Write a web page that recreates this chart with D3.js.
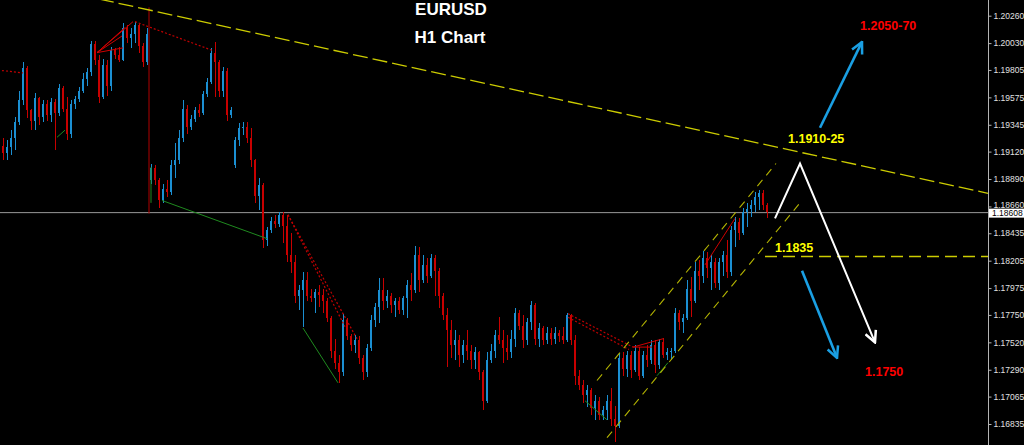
<!DOCTYPE html>
<html>
<head>
<meta charset="utf-8">
<script src="https://cdn.jsdelivr.net/npm/d3@7"></script>
<style>
  html, body { margin: 0; padding: 0; background: #000; overflow: hidden; }
  svg { display: block; }
</style>
</head>
<body>
<script>
// EURUSD H1 candles (one bar every ~4px)
const opens = [
  1.1917, 1.1911, 1.1916, 1.1923, 1.1937, 1.1955, 1.1982, 1.1947, 1.1938, 1.1957,
  1.1941, 1.1952, 1.1943, 1.1954, 1.1944, 1.1965, 1.1948, 1.1927, 1.1952, 1.1956,
  1.1963, 1.1973, 1.1979, 1.2002, 1.1989, 1.1958, 1.1985, 1.1967, 1.1997, 1.1993,
  1.1989, 1.2016, 1.2007, 1.2011, 1.2018, 1.2001, 1.1987, 1.1888, 1.1898, 1.1888,
  1.1871, 1.1881, 1.1878, 1.1901, 1.1905, 1.1923, 1.1948, 1.1933, 1.1939, 1.1947,
  1.1944, 1.1960, 1.1970, 1.1995, 1.1987, 1.1963, 1.1980, 1.1943, 1.1901, 1.1922,
  1.1932, 1.1933, 1.1923, 1.1905, 1.1875, 1.1884, 1.1838, 1.1846, 1.1854, 1.1851,
  1.1859, 1.1850, 1.1825, 1.1819, 1.1791, 1.1796, 1.1804, 1.1791, 1.1789, 1.1794,
  1.1792, 1.1787, 1.1772, 1.1745, 1.1735, 1.1727, 1.1771, 1.1757, 1.1750, 1.1754,
  1.1739, 1.1727, 1.1747, 1.1771, 1.1782, 1.1796, 1.1787, 1.1791, 1.1783, 1.1787,
  1.1779, 1.1789, 1.1800, 1.1796, 1.1825, 1.1804, 1.1817, 1.1808, 1.1823, 1.1812,
  1.1791, 1.1775, 1.1762, 1.1750, 1.1754, 1.1741, 1.1750, 1.1745, 1.1737, 1.1744,
  1.1727, 1.1703, 1.1737, 1.1745, 1.1758, 1.1754, 1.1747, 1.1744, 1.1755, 1.1777,
  1.1766, 1.1754, 1.1769, 1.1783, 1.1755, 1.1764, 1.1754, 1.1760, 1.1755, 1.1760,
  1.1757, 1.1754, 1.1775, 1.1754, 1.1724, 1.1716, 1.1708, 1.1712, 1.1697, 1.1703,
  1.1691, 1.1695, 1.1703, 1.1688, 1.1682, 1.1739, 1.1730, 1.1741, 1.1729, 1.1745,
  1.1724, 1.1741, 1.1737, 1.1750, 1.1733, 1.1752, 1.1741, 1.1744, 1.1745, 1.1777,
  1.1769, 1.1772, 1.1797, 1.1787, 1.1812, 1.1808, 1.1823, 1.1814, 1.1819, 1.1802,
  1.1819, 1.1825, 1.1811, 1.1846, 1.1853, 1.1844, 1.1861, 1.1864, 1.1867, 1.1874,
  1.1877, 1.1867
];
const highs = [
  1.1923, 1.1922, 1.1930, 1.1941, 1.1963, 1.1987, 1.1984, 1.1948, 1.1961, 1.1958,
  1.1955, 1.1955, 1.1957, 1.1956, 1.1969, 1.1967, 1.1958, 1.1955, 1.1959, 1.1966,
  1.1978, 1.1982, 1.2005, 1.2005, 1.1993, 1.1990, 1.1989, 1.2000, 1.1999, 1.2000,
  1.2020, 1.2018, 1.2016, 1.2021, 1.2019, 1.2003, 1.2016, 1.1902, 1.1901, 1.1890,
  1.1885, 1.1888, 1.1905, 1.1919, 1.1930, 1.1955, 1.1951, 1.1943, 1.1949, 1.1952,
  1.1963, 1.1974, 1.1999, 1.2004, 1.1989, 1.1983, 1.1982, 1.1949, 1.1924, 1.1936,
  1.1937, 1.1937, 1.1932, 1.1906, 1.1890, 1.1886, 1.1849, 1.1857, 1.1859, 1.1861,
  1.1861, 1.1859, 1.1844, 1.1825, 1.1800, 1.1811, 1.1811, 1.1797, 1.1797, 1.1800,
  1.1797, 1.1789, 1.1774, 1.1755, 1.1741, 1.1776, 1.1772, 1.1759, 1.1758, 1.1757,
  1.1741, 1.1751, 1.1775, 1.1785, 1.1806, 1.1806, 1.1796, 1.1793, 1.1789, 1.1790,
  1.1791, 1.1804, 1.1810, 1.1833, 1.1832, 1.1825, 1.1823, 1.1826, 1.1825, 1.1814,
  1.1793, 1.1781, 1.1771, 1.1762, 1.1758, 1.1754, 1.1762, 1.1750, 1.1748, 1.1745,
  1.1729, 1.1744, 1.1751, 1.1762, 1.1773, 1.1762, 1.1758, 1.1762, 1.1781, 1.1779,
  1.1775, 1.1772, 1.1787, 1.1785, 1.1768, 1.1766, 1.1765, 1.1764, 1.1765, 1.1762,
  1.1765, 1.1777, 1.1776, 1.1758, 1.1729, 1.1720, 1.1716, 1.1714, 1.1708, 1.1706,
  1.1699, 1.1708, 1.1714, 1.1699, 1.1743, 1.1744, 1.1745, 1.1745, 1.1750, 1.1748,
  1.1745, 1.1750, 1.1754, 1.1754, 1.1755, 1.1756, 1.1747, 1.1747, 1.1781, 1.1779,
  1.1776, 1.1804, 1.1807, 1.1819, 1.1821, 1.1829, 1.1828, 1.1825, 1.1823, 1.1823,
  1.1829, 1.1838, 1.1850, 1.1857, 1.1856, 1.1865, 1.1869, 1.1871, 1.1878, 1.1880,
  1.1880, 1.1869
];
const lows = [
  1.1905, 1.1905, 1.1909, 1.1913, 1.1934, 1.1951, 1.1940, 1.1930, 1.1930, 1.1934,
  1.1937, 1.1938, 1.1937, 1.1913, 1.1942, 1.1945, 1.1922, 1.1923, 1.1948, 1.1954,
  1.1961, 1.1967, 1.1975, 1.1985, 1.1953, 1.1956, 1.1959, 1.1963, 1.1990, 1.1987,
  1.1988, 1.2003, 1.1999, 1.2003, 1.1995, 1.1983, 1.1985, 1.1885, 1.1884, 1.1865,
  1.1869, 1.1874, 1.1876, 1.1890, 1.1902, 1.1920, 1.1927, 1.1930, 1.1937, 1.1941,
  1.1943, 1.1958, 1.1969, 1.1958, 1.1958, 1.1958, 1.1938, 1.1940, 1.1898, 1.1917,
  1.1926, 1.1919, 1.1899, 1.1869, 1.1863, 1.1831, 1.1833, 1.1844, 1.1848, 1.1849,
  1.1835, 1.1819, 1.1810, 1.1785, 1.1779, 1.1765, 1.1787, 1.1786, 1.1777, 1.1782,
  1.1777, 1.1769, 1.1739, 1.1730, 1.1718, 1.1724, 1.1754, 1.1745, 1.1743, 1.1734,
  1.1720, 1.1723, 1.1745, 1.1765, 1.1768, 1.1779, 1.1781, 1.1777, 1.1773, 1.1776,
  1.1775, 1.1772, 1.1787, 1.1793, 1.1794, 1.1802, 1.1802, 1.1806, 1.1791, 1.1781,
  1.1771, 1.1731, 1.1739, 1.1737, 1.1731, 1.1735, 1.1737, 1.1730, 1.1730, 1.1720,
  1.1695, 1.1701, 1.1735, 1.1739, 1.1751, 1.1735, 1.1737, 1.1739, 1.1748, 1.1762,
  1.1747, 1.1750, 1.1762, 1.1750, 1.1748, 1.1750, 1.1751, 1.1750, 1.1751, 1.1752,
  1.1751, 1.1752, 1.1750, 1.1716, 1.1712, 1.1701, 1.1698, 1.1691, 1.1687, 1.1687,
  1.1687, 1.1687, 1.1682, 1.1668, 1.1680, 1.1724, 1.1723, 1.1722, 1.1727, 1.1720,
  1.1722, 1.1731, 1.1734, 1.1726, 1.1730, 1.1739, 1.1737, 1.1737, 1.1743, 1.1762,
  1.1760, 1.1771, 1.1773, 1.1785, 1.1796, 1.1802, 1.1806, 1.1796, 1.1798, 1.1796,
  1.1808, 1.1806, 1.1808, 1.1832, 1.1838, 1.1842, 1.1849, 1.1857, 1.1861, 1.1863,
  1.1863, 1.1856
];
const closes = [
  1.1911, 1.1916, 1.1923, 1.1937, 1.1955, 1.1982, 1.1947, 1.1938, 1.1957, 1.1941,
  1.1952, 1.1943, 1.1954, 1.1944, 1.1965, 1.1948, 1.1927, 1.1952, 1.1956, 1.1963,
  1.1973, 1.1979, 1.2002, 1.1989, 1.1958, 1.1985, 1.1967, 1.1997, 1.1993, 1.1989,
  1.2016, 1.2007, 1.2011, 1.2018, 1.2001, 1.1987, 1.2011, 1.1898, 1.1888, 1.1871,
  1.1881, 1.1878, 1.1901, 1.1905, 1.1923, 1.1948, 1.1933, 1.1939, 1.1947, 1.1944,
  1.1960, 1.1970, 1.1995, 1.1987, 1.1963, 1.1980, 1.1943, 1.1947, 1.1922, 1.1932,
  1.1933, 1.1923, 1.1905, 1.1875, 1.1884, 1.1838, 1.1846, 1.1854, 1.1851, 1.1859,
  1.1850, 1.1825, 1.1819, 1.1791, 1.1796, 1.1804, 1.1791, 1.1789, 1.1794, 1.1792,
  1.1787, 1.1772, 1.1745, 1.1735, 1.1727, 1.1771, 1.1757, 1.1750, 1.1754, 1.1739,
  1.1727, 1.1747, 1.1771, 1.1782, 1.1796, 1.1787, 1.1791, 1.1783, 1.1787, 1.1779,
  1.1789, 1.1800, 1.1796, 1.1825, 1.1804, 1.1817, 1.1808, 1.1823, 1.1812, 1.1791,
  1.1775, 1.1762, 1.1750, 1.1754, 1.1741, 1.1750, 1.1745, 1.1737, 1.1744, 1.1727,
  1.1703, 1.1737, 1.1745, 1.1758, 1.1754, 1.1747, 1.1744, 1.1755, 1.1777, 1.1766,
  1.1754, 1.1769, 1.1783, 1.1755, 1.1764, 1.1754, 1.1760, 1.1755, 1.1760, 1.1757,
  1.1754, 1.1775, 1.1754, 1.1724, 1.1716, 1.1708, 1.1712, 1.1697, 1.1703, 1.1691,
  1.1695, 1.1703, 1.1688, 1.1682, 1.1739, 1.1730, 1.1741, 1.1729, 1.1745, 1.1724,
  1.1741, 1.1737, 1.1750, 1.1733, 1.1752, 1.1741, 1.1744, 1.1745, 1.1777, 1.1769,
  1.1772, 1.1797, 1.1787, 1.1812, 1.1808, 1.1823, 1.1814, 1.1819, 1.1802, 1.1819,
  1.1825, 1.1811, 1.1846, 1.1853, 1.1844, 1.1861, 1.1864, 1.1867, 1.1874, 1.1877,
  1.1867, 1.1861
];

const yTicks = [1.20260, 1.20030, 1.19805, 1.19575, 1.19345, 1.19120, 1.18890, 1.18660,
  1.18435, 1.18205, 1.17975, 1.17750, 1.17520, 1.17290, 1.17065, 1.16835];
const lastPrice = 1.18608;

// drawn objects, as [bar index, price]
const downTrend = [[24, 1.2040], [246.25, 1.1877]];
const level1835 = [[190.5, 1.1824], [246.25, 1.1824]];
const channelTop = [[148.5, 1.1720], [193.25, 1.1902]];
const channelBottom = [[151, 1.1672], [199.25, 1.1869]];
const pathWhite = [[193, 1.1856], [199.25, 1.1902], [218, 1.1752]];
const arrowUp = [[204.25, 1.1932], [214.75, 1.2004]];
const arrowDown = [[199.75, 1.1812], [208.5, 1.1739]];
const weekLine = [[36.5, 1.2033], [36.5, 1.1860]];
const redDotted = [
  [[-0.25, 1.1980], [5, 1.1978]],
  [[33, 1.2021], [52.25, 1.1997]],
  [[71.25, 1.1859], [88.5, 1.1755]],
  [[71.25, 1.1859], [85.5, 1.1765]],
  [[141.25, 1.1776], [157.5, 1.1748]],
  [[141.25, 1.1773], [156.5, 1.1746]]
];
const redSolid = [
  [[23.5, 1.1995], [32.5, 1.2021]],
  [[23.5, 1.1995], [30.5, 1.2016]],
  [[23.5, 1.1995], [29.75, 1.2009]],
  [[23.5, 1.1995], [30, 1.1999]],
  [[157.5, 1.1748], [165, 1.1755]],
  [[157.5, 1.1748], [162.25, 1.1748]],
  [[175.5, 1.1817], [183, 1.1856]]
];
const greenLines = [
  [[13.5, 1.1924], [15.5, 1.1930]],
  [[37, 1.1899], [37, 1.1869]],
  [[39.75, 1.1871], [66, 1.1839]],
  [[75, 1.1764], [83.75, 1.1718]],
  [[145.5, 1.1703], [151, 1.1687]],
  [[163.5, 1.1724], [166.25, 1.1735]]
];
const labels = [
  { text: "1.2050-70", at: [214.25, 1.2014], kind: "target" },
  { text: "1.1910-25", at: [196.25, 1.1919], kind: "level" },
  { text: "1.1835", at: [193, 1.1828], kind: "level" },
  { text: "1.1750", at: [215.5, 1.1724], kind: "target" }
];

const W = 1024, H = 445;
const axisX = 988;

const svg = d3.select("body").append("svg")
  .attr("width", W)
  .attr("height", H);

svg.append("rect").attr("width", W).attr("height", H).attr("fill", "#000");

const x = d3.scaleLinear().domain([0, closes.length - 1]).range([3, 767]);
const y = d3.scaleLinear().domain([1.16835, 1.20260]).range([424, 15.7]);
const line = d3.line().x(d => x(d[0])).y(d => y(d[1]));

const defs = svg.append("defs");
const addMarker = (id, color, size) => {
  defs.append("marker")
    .attr("id", id)
    .attr("viewBox", "0 0 10 10")
    .attr("refX", 9).attr("refY", 5)
    .attr("markerWidth", size).attr("markerHeight", size)
    .attr("markerUnits", "userSpaceOnUse")
    .attr("orient", "auto")
    .append("path")
      .attr("d", "M1,1 L9,5 L1,9")
      .attr("fill", "none")
      .attr("stroke", color)
      .attr("stroke-width", 1.8);
};
addMarker("head-blue", "#1a9fe3", 14);
addMarker("head-white", "#ffffff", 14);

// bid line
svg.append("line")
  .attr("x1", 0).attr("x2", axisX)
  .attr("y1", y(lastPrice)).attr("y2", y(lastPrice))
  .attr("stroke", "#9a9a9a").attr("stroke-width", 1);

// candles
const candles = closes.map((c, i) => ({ i, o: opens[i], h: highs[i], l: lows[i], c }));
const up = "#1b8fd2", down = "#c80000";
const g = svg.append("g").attr("shape-rendering", "crispEdges");
g.selectAll("rect.wick")
  .data(candles)
  .enter().append("rect")
    .attr("class", "wick")
    .attr("x", d => Math.round(x(d.i)))
    .attr("width", 1)
    .attr("y", d => y(d.h))
    .attr("height", d => Math.max(1, y(d.l) - y(d.h)))
    .attr("fill", d => d.c >= d.o ? up : down);
g.selectAll("rect.body")
  .data(candles)
  .enter().append("rect")
    .attr("class", "body")
    .attr("x", d => Math.round(x(d.i)) - 1)
    .attr("width", 2)
    .attr("y", d => y(Math.max(d.o, d.c)))
    .attr("height", d => Math.max(1, Math.abs(y(d.o) - y(d.c))))
    .attr("fill", d => d.c >= d.o ? up : down);

// objects
svg.append("path").attr("d", line(weekLine))
  .attr("stroke", "#b00000").attr("stroke-width", 1).attr("fill", "none");

svg.selectAll("path.red-dot")
  .data(redDotted)
  .enter().append("path")
    .attr("class", "red-dot")
    .attr("d", line)
    .attr("fill", "none")
    .attr("stroke", "#c00000")
    .attr("stroke-width", 1.2)
    .attr("stroke-dasharray", "2,2");

svg.selectAll("path.red-solid")
  .data(redSolid)
  .enter().append("path")
    .attr("class", "red-solid")
    .attr("d", line)
    .attr("fill", "none")
    .attr("stroke", "#d00000")
    .attr("stroke-width", 1);

svg.selectAll("path.green")
  .data(greenLines)
  .enter().append("path")
    .attr("class", "green")
    .attr("d", line)
    .attr("fill", "none")
    .attr("stroke", "#1f8a1f")
    .attr("stroke-width", 1);

svg.append("path").attr("d", line(downTrend))
  .attr("fill", "none").attr("stroke", "#cccc00")
  .attr("stroke-width", 1.3).attr("stroke-dasharray", "15,5");

svg.append("path").attr("d", line(level1835))
  .attr("fill", "none").attr("stroke", "#cccc00")
  .attr("stroke-width", 1.3).attr("stroke-dasharray", "12,6");

[channelTop, channelBottom].forEach(pts => {
  svg.append("path").attr("d", line(pts))
    .attr("fill", "none").attr("stroke", "#b4b400")
    .attr("stroke-width", 1.1).attr("stroke-dasharray", "8,6");
});

svg.append("path").attr("d", line(pathWhite))
  .attr("fill", "none").attr("stroke", "#ffffff")
  .attr("stroke-width", 2).attr("stroke-linejoin", "miter")
  .attr("marker-end", "url(#head-white)");

[arrowUp, arrowDown].forEach(pts => {
  svg.append("path").attr("d", line(pts))
    .attr("fill", "none").attr("stroke", "#1a9fe3")
    .attr("stroke-width", 2.6)
    .attr("marker-end", "url(#head-blue)");
});

svg.selectAll("text.note")
  .data(labels)
  .enter().append("text")
    .attr("class", "note")
    .attr("x", d => x(d.at[0]))
    .attr("y", d => y(d.at[1]))
    .attr("font-family", "Liberation Sans, Arial, sans-serif")
    .attr("font-weight", "bold")
    .attr("font-size", 12.5)
    .attr("fill", d => d.kind === "target" ? "#ff0000" : "#ffff00")
    .text(d => d.text);

// title
const title = svg.append("g")
  .attr("font-family", "Liberation Sans, Arial, sans-serif")
  .attr("font-weight", "bold")
  .attr("font-size", 17)
  .attr("fill", "#ffffff")
  .attr("text-anchor", "middle");
title.append("text").attr("x", 451).attr("y", 15).text("EURUSD");
title.append("text").attr("x", 450).attr("y", 43).text("H1 Chart");

// price scale
svg.append("line")
  .attr("x1", axisX + 0.5).attr("x2", axisX + 0.5)
  .attr("y1", 0).attr("y2", H)
  .attr("stroke", "#b4b4b4").attr("stroke-width", 1);

const axis = d3.axisRight(y)
  .tickValues(yTicks)
  .tickSize(3)
  .tickSizeOuter(0)
  .tickPadding(2)
  .tickFormat(d3.format(".5f"));

const gAxis = svg.append("g")
  .attr("transform", `translate(${axisX + 0.5},0)`)
  .call(axis);
gAxis.select(".domain").remove();
gAxis.selectAll(".tick line").attr("stroke", "#b4b4b4");
gAxis.selectAll(".tick text")
  .attr("fill", "#e0e0e0")
  .attr("font-family", "Liberation Sans, Arial, sans-serif")
  .attr("font-size", 8.5)
  .attr("dy", d => d === 1.18660 ? "0.1em" : "0.32em");

svg.append("rect")
  .attr("x", axisX + 1).attr("y", y(lastPrice) - 4)
  .attr("width", W - axisX - 1).attr("height", 9)
  .attr("fill", "#ffffff");
svg.append("text")
  .attr("x", axisX + 4).attr("y", y(lastPrice) + 0.5)
  .attr("dy", "0.35em")
  .attr("font-family", "Liberation Sans, Arial, sans-serif")
  .attr("font-size", 8.5)
  .attr("fill", "#000")
  .text(d3.format(".5f")(lastPrice));
</script>
</body>
</html>
